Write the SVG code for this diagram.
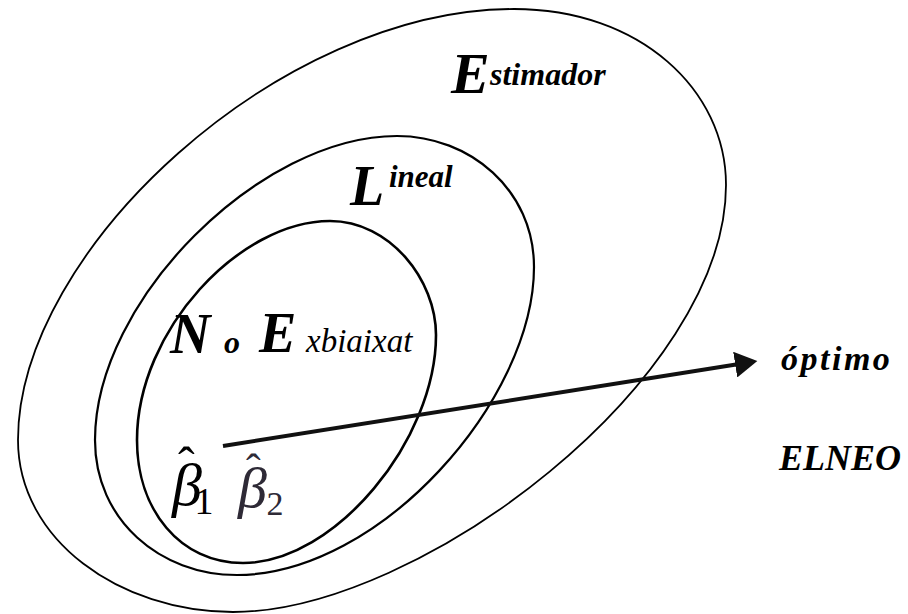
<svg xmlns="http://www.w3.org/2000/svg" width="908" height="614" viewBox="0 0 908 614">
<style>
.set{fill:none;stroke:#000}
.outer{stroke-width:1.8}
.mid{stroke-width:2.2}
.inner{stroke-width:2.6}
.bi{font-family:"Liberation Serif","Times New Roman",serif;font-style:italic;font-weight:bold;fill:#000}
.it{font-family:"Liberation Serif","Times New Roman",serif;font-style:italic;fill:#000}
.rm{font-family:"Liberation Serif","Times New Roman",serif;font-style:normal}
.b1{fill:#000}
.b2{fill:#2e2a36}
</style>
<defs>
<marker id="ah" markerWidth="6" markerHeight="6.5" refX="0.2" refY="3.25" orient="auto" markerUnits="strokeWidth">
<path d="M0,0 L5.6,3.25 L0,6.5 Z" fill="#111"/>
</marker>
</defs>
<g id="estimador">
<path class="set outer" d="M514,9 C640,9 726,90 726,185 C726,380 420,612 233,612 C120,612 18,540 18,440 C18,250 280,9 514,9 Z"/>
<text class="bi" x="451" y="93" font-size="58">E</text>
<text class="bi" x="490" y="85" font-size="32">stimador</text>
</g>
<g id="lineal">
<path class="set mid" d="M397,136 C470,136 534,190 534,267 C534,400 380,575 237,575 C160,575 95,520 95,440 C95,300 260,136 397,136 Z"/>
<text class="bi" x="350" y="205" font-size="56">L</text>
<text class="bi" x="389" y="187" font-size="31">ineal</text>
</g>
<g id="noexbiaixat">
<path class="set inner" d="M330,221 C390,221 436,280 436,335 C436,440 335,563 243,563 C180,563 137,510 137,440 C137,330 240,221 330,221 Z"/>
<text class="bi" x="170" y="353" font-size="56">N</text>
<text class="bi" x="224" y="353" font-size="32">o</text>
<text class="bi" x="259" y="352" font-size="56">E</text>
<text class="it" x="306" y="352" font-size="33">xbiaixat</text>
</g>
<g id="beta1">
<text class="it b1" x="172" y="505" font-size="60">β<tspan class="rm" font-size="50" dx="-24" dy="-23">ˆ</tspan><tspan class="rm" font-size="38" dx="0" dy="32">1</tspan></text>
</g>
<g id="beta2">
<text class="it b2" x="238" y="507" font-size="58">β<tspan class="rm" font-size="44" dx="-21" dy="-23">ˆ</tspan><tspan class="rm" font-size="34" dx="6" dy="31">2</tspan></text>
</g>
<g id="connectors">
<line x1="223" y1="446" x2="736" y2="364.5" stroke="#111" stroke-width="4" marker-end="url(#ah)"/>
</g>
<g id="optimo">
<text class="bi" x="781" y="370" font-size="34" letter-spacing="2.5">óptimo</text>
</g>
<g id="elneo">
<text class="bi" x="779" y="470" font-size="36">ELNEO</text>
</g>
</svg>
